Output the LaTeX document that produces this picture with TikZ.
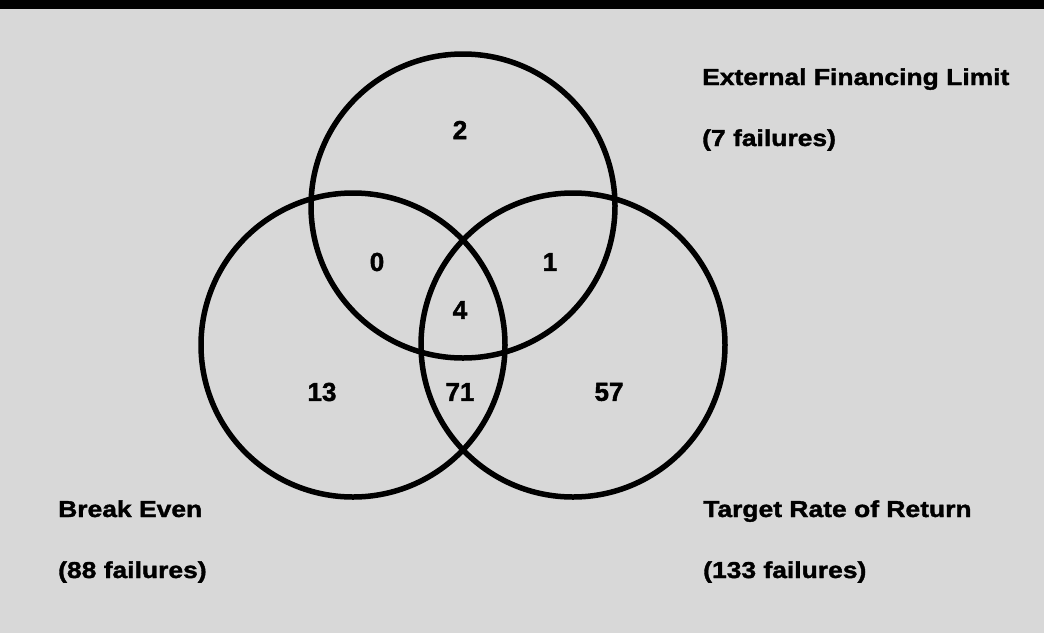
\documentclass[tikz,border=0pt]{standalone}
\usepackage{fontspec}
\setmainfont{Liberation Sans}
\newfontfamily\setlabel[FakeStretch=1.15,FakeBold=1.6]{Liberation Sans}
\newfontfamily\setcount[FakeBold=1.6]{Liberation Sans}
\usepackage{tikz}
\usetikzlibrary{positioning}
\usepackage{xcolor}
\definecolor{screengray}{RGB}{216,216,216}

\begin{document}
\begin{tikzpicture}[
    x=1pt, y=-1pt,
    venn/.style={circle, draw=black, line width=5.5pt, minimum size=304pt, inner sep=0pt},
    setname/.style={anchor=base west, inner sep=0pt, font=\setlabel\bfseries\fontsize{23}{27}\selectfont},
    count/.style={inner sep=0pt, font=\setcount\bfseries\fontsize{26}{30}\selectfont}
]
    \useasboundingbox (0,0) rectangle (1044,633);
    \fill[screengray] (0,0) rectangle (1044,633);
    \fill[black] (0,0) rectangle (1044,9);

    % the three sets
    \node [venn] (efl) at (463,206) {};
    \node [venn] (be)  at (353,345) {};
    \node [venn] (trr) at (573,345) {};

    % counts in each region
    \node [count] (onlyefl) at (460,130) {2};
    \node [count] (eflbe)   at (377,262) {0};
    \node [count] (efltrr)  at (550,262) {1};
    \node [count] (all)     at (460,310) {4};
    \node [count] (onlybe)  at (322,392) {13};
    \node [count] (betrr)   at (460,392) {71};
    \node [count] (onlytrr) at (609,392) {57};

    % set names
    \node [setname] (eflname) at (702,85)  {External Financing Limit};
    \node [setname] (eflnum)  at (702,146) {(7 failures)};
    \node [setname] (bename)  at (58,517)  {Break Even};
    \node [setname] (benum)   at (58,578)  {(88 failures)};
    \node [setname] (trrname) at (703,517) {Target Rate of Return};
    \node [setname] (trrnum)  at (703,578) {(133 failures)};
\end{tikzpicture}
\end{document}
